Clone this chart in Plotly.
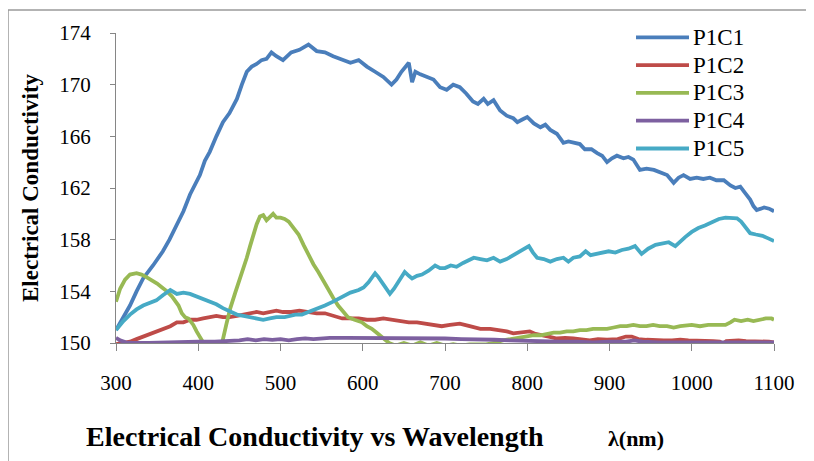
import plotly.graph_objects as go

# ---------------- data ----------------
series_names = ["P1C1", "P1C2", "P1C3", "P1C4", "P1C5"]
series_colors = ["#4A7EBB", "#BE4B48", "#98B954", "#7D60A0", "#46AAC5"]

x_tick_values = [300, 400, 500, 600, 700, 800, 900, 1000, 1100]
y_tick_values = [150, 154, 158, 162, 166, 170, 174]

p1c1_x = [300, 310, 317, 325, 333, 345, 357, 365, 374, 382, 390, 396, 402, 408, 414, 422, 430, 438, 447, 453,
          459, 465, 471, 477, 483, 489, 495, 503, 513, 523, 534, 544, 554, 564, 575, 585, 595, 605, 615, 625,
          635, 641, 647, 652, 656, 660, 664, 670, 678, 686, 694, 702, 710, 718, 726, 734, 740, 747, 752, 759,
          767, 775, 783, 788, 794, 800, 808, 816, 822, 828, 836, 844, 850, 856, 864, 870, 878, 885, 891, 897,
          903, 909, 917, 923, 929, 937, 945, 954, 962, 970, 978, 984, 990, 998, 1006, 1014, 1022, 1030, 1039, 1047,
          1053, 1059, 1065, 1071, 1075, 1079, 1084, 1088, 1094, 1100]
p1c1_y = [151.0, 152.1, 152.9, 154.0, 155.0, 156.0, 157.1, 158.0, 159.1, 160.2, 161.5, 162.2, 163.0, 164.1, 164.8, 166.0, 167.1, 167.8, 168.9, 170.0,
          171.0, 171.4, 171.6, 171.9, 172.0, 172.5, 172.2, 171.9, 172.5, 172.7, 173.1, 172.6, 172.5, 172.2, 171.9, 171.7, 171.9, 171.4, 171.0, 170.6,
          170.0, 170.4, 171.0, 171.4, 171.7, 170.2, 171.0, 170.8, 170.6, 170.4, 169.8, 169.6, 170.0, 169.8, 169.3, 168.7, 168.5, 168.9, 168.5, 168.8,
          168.0, 167.6, 167.4, 167.1, 167.3, 167.5, 167.0, 166.7, 166.9, 166.5, 166.2, 165.5, 165.6, 165.5, 165.4, 165.0, 165.0, 164.7, 164.5, 164.0,
          164.3, 164.5, 164.3, 164.4, 164.2, 163.4, 163.5, 163.4, 163.2, 163.0, 162.4, 162.8, 163.0, 162.7, 162.8, 162.7, 162.8, 162.6, 162.6, 162.2,
          162.0, 162.1, 161.6, 161.1, 160.6, 160.3, 160.4, 160.5, 160.4, 160.2]

p1c2_x = [300, 310, 317, 325, 333, 341, 349, 357, 366, 374, 382, 390, 398, 406, 414, 422, 430, 438, 447, 455,
          463, 471, 479, 487, 495, 503, 513, 523, 534, 544, 554, 564, 575, 585, 595, 605, 615, 625, 635, 645,
          656, 666, 676, 686, 696, 706, 718, 730, 743, 755, 767, 775, 783, 793, 803, 810, 816, 826, 836, 846,
          856, 866, 876, 886, 897, 910, 920, 927, 935, 945, 956, 966, 976, 986, 996, 1006, 1016, 1026, 1034, 1038,
          1042, 1050, 1057, 1066, 1076, 1086, 1094, 1100]
p1c2_y = [149.9, 150.0, 150.1, 150.3, 150.5, 150.7, 150.9, 151.1, 151.3, 151.6, 151.6, 151.8, 151.8, 151.9, 152.0, 152.1, 152.0, 152.0, 152.1, 152.2,
          152.3, 152.4, 152.3, 152.4, 152.5, 152.4, 152.4, 152.5, 152.4, 152.3, 152.3, 152.1, 151.9, 151.9, 151.9, 151.8, 151.8, 151.9, 151.8, 151.7,
          151.6, 151.6, 151.5, 151.4, 151.3, 151.4, 151.5, 151.3, 151.1, 151.1, 151.0, 150.9, 150.75, 150.8, 150.9, 150.7, 150.6, 150.5, 150.35, 150.4,
          150.35, 150.3, 150.2, 150.3, 150.25, 150.3, 150.5, 150.5, 150.3, 150.25, 150.2, 150.2, 150.2, 150.25, 150.2, 150.2, 150.2, 150.15, 150.1, 149.95,
          150.15, 150.2, 150.2, 150.15, 150.15, 150.1, 150.1, 150.05]

p1c3_x = [300, 305, 311, 317, 325, 331, 337, 343, 350, 356, 362, 368, 372, 376, 380, 384, 388, 391, 394, 398,
          402, 406, 412, 418, 424, 429, 434, 439, 445, 451, 455, 459, 463, 467, 471, 475, 479, 483, 487, 491,
          495, 500, 505, 510, 516, 522, 528, 534, 540, 546, 552, 558, 564, 570, 576, 582, 590, 599, 605, 611,
          617, 623, 628, 632, 640, 650, 660, 670, 680, 690, 700, 710, 720, 730, 740, 750, 760, 770, 780, 790,
          800, 808, 816, 824, 832, 840, 848, 856, 864, 872, 880, 889, 897, 905, 913, 921, 929, 937, 945, 953,
          961, 970, 978, 986, 994, 1000, 1010, 1020, 1030, 1041, 1047, 1052, 1060, 1068, 1075, 1082, 1090, 1097, 1100]
p1c3_y = [153.2, 154.2, 154.9, 155.3, 155.4, 155.3, 155.1, 154.9, 154.6, 154.3, 154.0, 153.6, 153.3, 152.9, 152.3, 152.0, 151.9, 151.7, 151.4, 150.9,
          150.5, 150.0, 149.4, 149.2, 149.6, 150.0, 151.4, 152.7, 153.9, 155.0, 155.8, 156.6, 157.5, 158.4, 159.2, 159.8, 159.9, 159.5, 159.8, 160.0,
          159.7, 159.7, 159.6, 159.4, 158.9, 158.4, 157.6, 156.8, 156.1, 155.5, 154.8, 154.2, 153.5, 152.9, 152.4, 152.0, 151.8, 151.6, 151.3, 151.1,
          150.8, 150.5, 150.2, 150.0, 149.8, 150.0, 149.8, 150.05, 149.8, 150.0, 149.8, 149.9, 149.8, 149.9, 149.9, 149.9, 150.0, 150.2, 150.3, 150.4,
          150.5, 150.6, 150.6, 150.7, 150.8, 150.8, 150.9, 150.9, 151.0, 151.0, 151.1, 151.1, 151.1, 151.2, 151.3, 151.3, 151.4, 151.3, 151.3, 151.4,
          151.3, 151.3, 151.2, 151.3, 151.4, 151.4, 151.3, 151.4, 151.4, 151.4, 151.6, 151.8, 151.7, 151.8, 151.7, 151.8, 151.9, 151.9, 151.8]

p1c4_x = [300, 305, 312, 320, 340, 360, 380, 400, 420, 440, 450, 460, 470, 480, 490, 500, 510, 520, 530, 540,
          550, 560, 580, 600, 620, 640, 660, 680, 700, 720, 740, 760, 780, 800, 820, 840, 860, 880, 900, 920,
          930, 940, 960, 980, 1000, 1020, 1040, 1060, 1080, 1100]
p1c4_y = [150.4, 150.2, 150.05, 150.0, 150.0, 150.05, 150.05, 150.1, 150.1, 150.15, 150.2, 150.3, 150.2, 150.3, 150.25, 150.3, 150.2, 150.3, 150.35, 150.3,
          150.35, 150.4, 150.4, 150.4, 150.4, 150.35, 150.4, 150.4, 150.35, 150.3, 150.3, 150.25, 150.2, 150.15, 150.1, 150.1, 150.1, 150.05, 150.1, 150.1,
          150.2, 150.1, 150.05, 150.05, 150.05, 150.05, 150.05, 150.05, 150.05, 150.05]

p1c5_x = [300, 309, 317, 325, 333, 341, 349, 357, 366, 374, 382, 390, 402, 414, 422, 430, 438, 447, 455, 463,
          471, 479, 487, 495, 505, 518, 526, 534, 544, 554, 564, 575, 585, 595, 601, 607, 615, 619, 623, 628,
          633, 638, 643, 651, 656, 660, 666, 672, 680, 688, 694, 700, 707, 714, 722, 730, 735, 743, 751, 759,
          767, 775, 783, 790, 797, 802, 807, 812, 820, 828, 836, 844, 850, 856, 864, 871, 877, 885, 892, 899,
          907, 915, 923, 931, 939, 947, 956, 964, 972, 980, 986, 992, 1000, 1008, 1016, 1025, 1033, 1041, 1048, 1055,
          1060, 1064, 1068, 1071, 1078, 1086, 1093, 1100]
p1c5_y = [151.0, 151.7, 152.2, 152.6, 152.9, 153.1, 153.3, 153.7, 154.1, 153.8, 153.9, 153.8, 153.5, 153.2, 153.0, 152.7, 152.5, 152.2, 152.1, 152.0,
          151.9, 151.8, 151.9, 152.0, 152.0, 152.2, 152.2, 152.4, 152.6, 152.9, 153.2, 153.6, 153.9, 154.1, 154.3, 154.7, 155.4, 155.1, 154.7, 154.2,
          153.8, 154.2, 154.7, 155.5, 155.2, 155.0, 155.2, 155.3, 155.6, 156.0, 155.8, 155.8, 156.0, 155.9, 156.2, 156.4, 156.6, 156.5, 156.4, 156.6,
          156.3, 156.5, 156.8, 157.0, 157.3, 157.5, 157.0, 156.6, 156.5, 156.3, 156.5, 156.6, 156.3, 156.6, 156.7, 157.1, 156.8, 156.9, 157.0, 157.1,
          157.0, 157.2, 157.3, 157.5, 156.9, 157.3, 157.6, 157.7, 157.8, 157.5, 157.9, 158.2, 158.6, 158.9, 159.1, 159.4, 159.6, 159.7, 159.7, 159.65,
          159.4, 159.1, 158.7, 158.5, 158.4, 158.3, 158.1, 157.9]

series_x = [p1c1_x, p1c2_x, p1c3_x, p1c4_x, p1c5_x]
series_y = [p1c1_y, p1c2_y, p1c3_y, p1c4_y, p1c5_y]

y_title = "Electrical Conductivity"
x_title = "Electrical Conductivity vs Wavelength"
x_unit = "λ(nm)"

# ---------------- figure ----------------
SERIF = "Liberation Serif, Times New Roman, serif"
AXIS_GRAY = "#868686"

fig = go.Figure()
for name, color, xs, ys in zip(series_names, series_colors, series_x, series_y):
    n = min(len(xs), len(ys))
    fig.add_trace(go.Scatter(x=xs[:n], y=ys[:n], mode="lines", name=name,
                             line=dict(color=color, width=3.8)))

# page body has an 8px margin: the figure is drawn 8px right/down in the window
OFF = 8
W, H = 814 - OFF, 461 - OFF
PL, PR, PT, PB = 116, 774, 33, 343          # plot area in window pixels
L, T = PL - OFF, PT - OFF
R, B = (W + OFF) - PR, (H + OFF) - PB
pw, ph = PR - PL, PB - PT


def px_x(px):
    return (px - PL) / pw


def px_y(py):
    return (PB - py) / ph


fig.update_layout(
    width=W, height=H,
    margin=dict(l=L, r=R, t=T, b=B),
    paper_bgcolor="white", plot_bgcolor="white",
    showlegend=False,
    font=dict(family=SERIF, color="black"),
)
fig.update_xaxes(
    range=[300, 1100], tickvals=x_tick_values, showgrid=False, zeroline=False,
    showline=True, linecolor=AXIS_GRAY, linewidth=1,
    ticks="outside", ticklen=7, tickcolor=AXIS_GRAY, tickwidth=1,
    tickfont=dict(family=SERIF, size=21, color="black"), ticklabelstandoff=14,
)
fig.update_yaxes(
    range=[150, 174], tickvals=y_tick_values, showgrid=False, zeroline=False,
    showline=True, linecolor=AXIS_GRAY, linewidth=1,
    ticks="outside", ticklen=5, tickcolor=AXIS_GRAY, tickwidth=1,
    tickfont=dict(family=SERIF, size=21, color="black"), ticklabelstandoff=15,
)

annotations = [
    dict(text=y_title, x=px_x(30), y=px_y(188), xref="paper", yref="paper",
         textangle=-90, showarrow=False, xanchor="center", yanchor="middle",
         font=dict(family=SERIF, size=23, color="black", weight="bold")),
    dict(text=x_title, x=px_x(315), y=px_y(436), xref="paper", yref="paper",
         showarrow=False, xanchor="center", yanchor="middle",
         font=dict(family=SERIF, size=28, color="black", weight="bold")),
    dict(text=x_unit, x=px_x(636), y=px_y(438), xref="paper", yref="paper",
         showarrow=False, xanchor="center", yanchor="middle",
         font=dict(family=SERIF, size=22, color="black", weight="bold")),
]

shapes = [
    dict(type="rect", xref="paper", yref="paper",
         x0=px_x(8), x1=px_x(830), y0=px_y(10), y1=px_y(480),
         line=dict(color="#9a9a9a", width=1.5), fillcolor="rgba(0,0,0,0)", layer="below"),
]

# legend drawn manually (long key lines like the reference)
for i, (name, color) in enumerate(zip(series_names, series_colors)):
    py = 37.3 + 27.8 * i
    shapes.append(dict(type="line", xref="paper", yref="paper",
                       x0=px_x(636), x1=px_x(689), y0=px_y(py), y1=px_y(py),
                       line=dict(color=color, width=3.8)))
    annotations.append(dict(text=name, x=px_x(691), y=px_y(py), xref="paper", yref="paper",
                            showarrow=False, xanchor="left", yanchor="middle",
                            font=dict(family=SERIF, size=23, color="black")))

fig.update_layout(annotations=annotations, shapes=shapes)

fig.write_html("out.html")
